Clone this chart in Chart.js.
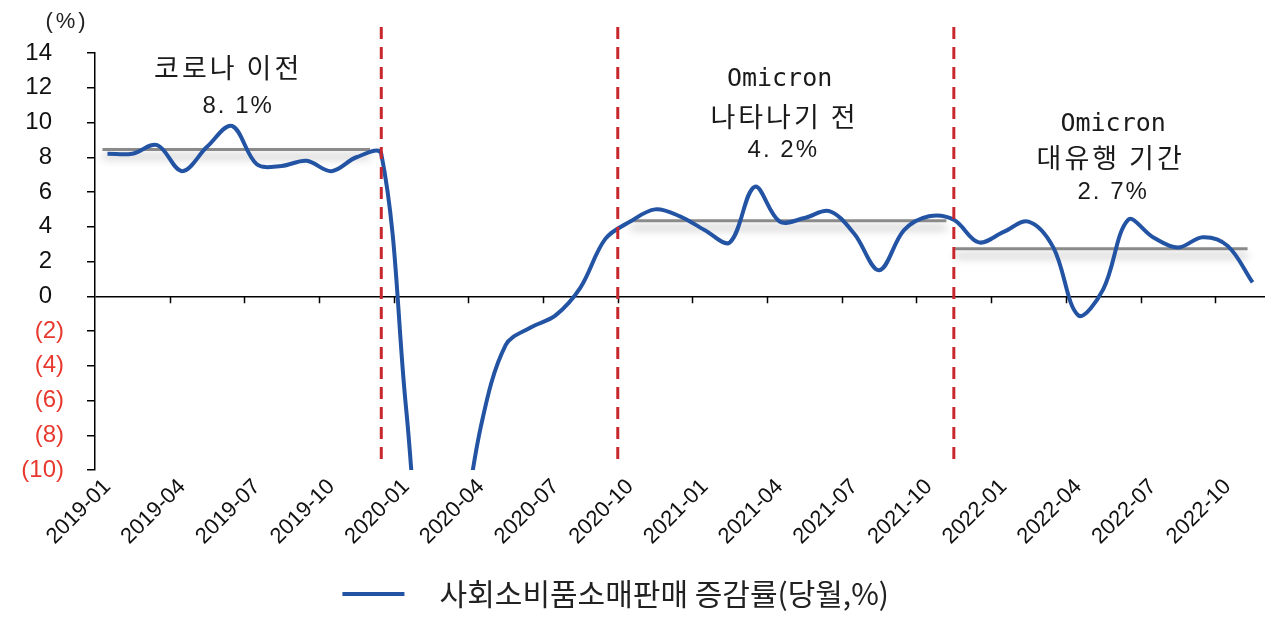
<!DOCTYPE html>
<html>
<head>
<meta charset="utf-8">
<script src="https://cdn.jsdelivr.net/npm/chart.js@4.4.1/dist/chart.umd.min.js"></script>
<style>
  html, body { margin: 0; padding: 0; background: #fff; }
  #wrap { width: 1280px; height: 619px; }
</style>
</head>
<body>
<div id="wrap"><canvas id="retailChart" width="1280" height="619"></canvas></div>
<script>
// 월별 카테고리
const months = [
  '2019-01','2019-02','2019-03','2019-04','2019-05','2019-06','2019-07','2019-08','2019-09','2019-10','2019-11','2019-12',
  '2020-01','2020-02','2020-03','2020-04','2020-05','2020-06','2020-07','2020-08','2020-09','2020-10','2020-11','2020-12',
  '2021-01','2021-02','2021-03','2021-04','2021-05','2021-06','2021-07','2021-08','2021-09','2021-10','2021-11','2021-12',
  '2022-01','2022-02','2022-03','2022-04','2022-05','2022-06','2022-07','2022-08','2022-09','2022-10','2022-11'
];

// 사회소비품소매판매 증감률(당월, %)
const retailGrowth = [
  8.2, 8.2, 8.7, 7.2, 8.6, 9.8, 7.6, 7.5, 7.8, 7.2, 8.0, 8.2,
  -6.5, -20.5, -15.8, -7.5, -2.8, -1.8, -1.1, 0.5, 3.3, 4.3, 5.0, 4.6,
  3.8, 3.1, 6.3, 4.3, 4.5, 4.9, 3.6, 1.5, 3.8, 4.6, 4.4, 3.1,
  3.7, 4.3, 2.8, -1.1, 0.4, 4.4, 3.4, 2.8, 3.4, 2.9, 0.8
];

// 기간 구분선 (카테고리 위치)
const periodBreaks = [11, 20.5, 34];

// 기간별 평균선: 수준, 시작/끝 (카테고리 위치)
const avgLevels = [8.45, 4.35, 2.73];
const avgFrom = [-0.2, 21.0, 34.05];
const avgTo = [10.55, 33.7, 45.8];

// 주석 텍스트
const notes = [
  { text: '코로나 이전', x: 4.85, y: 13.15, kind: 'kr' },
  { text: '8. 1%', x: 5.25, y: 10.9, kind: 'num' },
  { text: 'Omicron', x: 27.0, y: 12.45, kind: 'latin' },
  { text: '나타나기 전', x: 27.2, y: 10.35, kind: 'kr' },
  { text: '4. 2%', x: 27.15, y: 8.4, kind: 'num' },
  { text: 'Omicron', x: 40.4, y: 9.9, kind: 'latin' },
  { text: '대유행 기간', x: 40.3, y: 7.95, kind: 'kr' },
  { text: '2. 7%', x: 40.4, y: 6.0, kind: 'num' }
];

const KR_FONT = "'Noto Sans CJK KR', 'Noto Sans', sans-serif";
const NUM_FONT = "'Liberation Sans', Arial, sans-serif";
const MONO_FONT = "'DejaVu Sans Mono', monospace";

const noteStyles = {
  kr: { font: '27px ' + KR_FONT, spacing: '3px' },
  num: { font: '24px ' + NUM_FONT, spacing: '2px' },
  latin: { font: '25px ' + MONO_FONT, spacing: '0px' }
};

// 평균선 (그림자 포함) - 선 아래에 그림
const avgLinesPlugin = {
  id: 'avgLines',
  beforeDatasetsDraw(chart) {
    const { ctx, scales: { x, y } } = chart;
    ctx.save();
    ctx.strokeStyle = '#8a8a8a';
    ctx.lineWidth = 3;
    ctx.shadowColor = 'rgba(0,0,0,0.35)';
    ctx.shadowBlur = 8;
    ctx.shadowOffsetY = 7;
    avgLevels.forEach((lvl, i) => {
      const py = y.getPixelForValue(lvl);
      ctx.beginPath();
      ctx.moveTo(x.getPixelForValue(avgFrom[i]), py);
      ctx.lineTo(x.getPixelForValue(avgTo[i]), py);
      ctx.stroke();
    });
    ctx.restore();
  }
};

// 구분선, x축 눈금, 주석
const overlayPlugin = {
  id: 'overlay',
  afterDatasetsDraw(chart) {
    const { ctx, scales: { x, y } } = chart;
    ctx.save();

    // x축 눈금 (0 선 위)
    const zeroY = y.getPixelForValue(0);
    ctx.strokeStyle = '#000';
    ctx.lineWidth = 1.5;
    for (let i = 3; i < months.length; i += 3) {
      const px = Math.round(x.getPixelForValue(i - 0.5)) + 0.5;
      ctx.beginPath();
      ctx.moveTo(px, zeroY);
      ctx.lineTo(px, zeroY + 7);
      ctx.stroke();
    }

    // 빨간 점선
    ctx.strokeStyle = '#c8282d';
    ctx.lineWidth = 3;
    ctx.setLineDash([12, 8]);
    periodBreaks.forEach(b => {
      const px = x.getPixelForValue(b);
      ctx.beginPath();
      ctx.moveTo(px, y.getPixelForValue(15.5));
      ctx.lineTo(px, y.getPixelForValue(-9.4));
      ctx.stroke();
    });
    ctx.setLineDash([]);

    // 주석 텍스트
    ctx.fillStyle = '#1a1a1a';
    ctx.textAlign = 'center';
    ctx.textBaseline = 'middle';
    notes.forEach(n => {
      const st = noteStyles[n.kind];
      ctx.font = st.font;
      ctx.letterSpacing = st.spacing;
      ctx.fillText(n.text, x.getPixelForValue(n.x), y.getPixelForValue(n.y));
    });

    // 단위
    ctx.font = '22px ' + NUM_FONT;
    ctx.fillStyle = '#222';
    ctx.letterSpacing = '3px';
    ctx.fillText('(%)', 67, 22);
    ctx.letterSpacing = '0px';
    ctx.restore();
  }
};

const ctx = document.getElementById('retailChart').getContext('2d');
new Chart(ctx, {
  type: 'line',
  data: {
    labels: months,
    datasets: [{
      label: '   사회소비품소매판매 증감률(당월,%)     ',
      data: retailGrowth,
      borderColor: '#2353a3',
      backgroundColor: '#2353a3',
      borderWidth: 4,
      pointRadius: 0,
      tension: 0.35,
      fill: false
    }]
  },
  options: {
    responsive: false,
    animation: false,
    layout: { padding: { top: 53, right: 15, bottom: 0, left: 0 } },
    plugins: {
      tooltip: { enabled: false },
      legend: {
        position: 'bottom',
        labels: {
          usePointStyle: true,
          pointStyle: 'line',
          pointStyleWidth: 62,
          color: '#222',
          padding: 5,
          font: { family: KR_FONT, size: 30 }
        }
      }
    },
    scales: {
      x: {
        type: 'category',
        offset: true,
        grid: { display: false, drawTicks: false },
        border: { display: false },
        ticks: {
          autoSkip: false,
          minRotation: 45,
          maxRotation: 45,
          padding: 4,
          color: '#111',
          font: { family: NUM_FONT, size: 22 },
          callback: function(val, idx) {
            return idx % 3 === 0 ? months[idx] : '';
          }
        },
        afterFit: function(scale) { scale.height = 104; }
      },
      y: {
        min: -10,
        max: 14,
        grid: {
          color: c => (c.tick && c.tick.value === 0 ? '#000' : 'rgba(0,0,0,0)'),
          lineWidth: 1.5,
          tickColor: '#000',
          tickLength: 8
        },
        border: { display: true, color: '#000', width: 1.5 },
        ticks: {
          stepSize: 2,
          padding: 23,
          font: { family: NUM_FONT, size: 24 },
          color: c => (c.tick.value < 0 ? '#e8392f' : '#111'),
          callback: v => (v < 0 ? '(' + (-v) + ')' : v + '\u2002')
        },
        afterFit: function(scale) { scale.width = 95; }
      }
    }
  },
  plugins: [avgLinesPlugin, overlayPlugin]
});
</script>
</body>
</html>
